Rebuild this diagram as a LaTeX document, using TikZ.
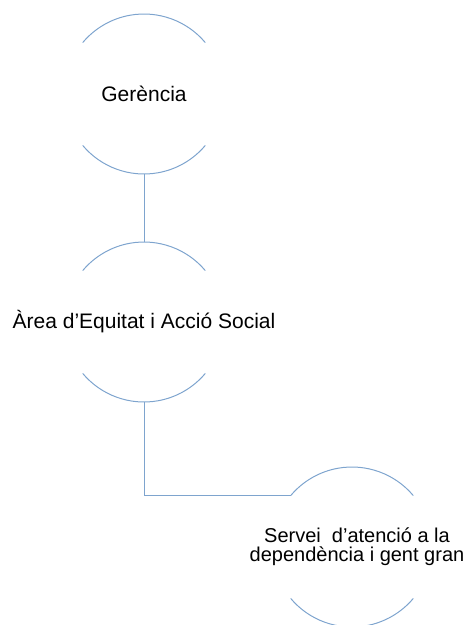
\documentclass[tikz,border=0pt]{standalone}
\usepackage{fontspec}
\setmainfont{Liberation Sans}
\definecolor{linkblue}{RGB}{126,164,206}
\begin{document}
\begin{tikzpicture}[x=1pt,y=-1pt,
	unit/.style={font=\fontsize{21}{20}\selectfont,align=center,inner sep=0pt},
	link/.style={draw=linkblue,line width=1pt}]
	\useasboundingbox (0,0) rectangle (466,625);
	\node(ger)[unit] at (144,94) {Gerència};
	\node(area)[unit] at (144,322) {Àrea d’Equitat i Acció Social};
	\node(serv)[unit,font=\fontsize{20}{19}\selectfont] at (357,547) {Servei~ d’atenció a la\\dependència i gent gran};
	% circle centres (the last text sits a bit right of its circle)
	\coordinate(ger-c) at (ger.center);
	\coordinate(area-c) at (area.center);
	\coordinate(serv-c) at ([xshift=-5pt]serv.center);
	\foreach \n in {ger,area,serv} {
		\draw[link] ([shift={(40:80pt)}]\n-c) arc[start angle=40,end angle=140,radius=80pt];
		\draw[link] ([shift={(220:80pt)}]\n-c) arc[start angle=220,end angle=320,radius=80pt];
	}
	\coordinate(ger-s) at ([yshift=-80pt]ger-c);
	\coordinate(area-n) at ([yshift=80pt]area-c);
	\coordinate(area-s) at ([yshift=-80pt]area-c);
	\coordinate(serv-w) at ([shift={(140:80pt)}]serv-c);
	\draw[link] (ger-s) -- (area-n);
	\draw[link] (area-s) |- (serv-w);
\end{tikzpicture}
\end{document}
